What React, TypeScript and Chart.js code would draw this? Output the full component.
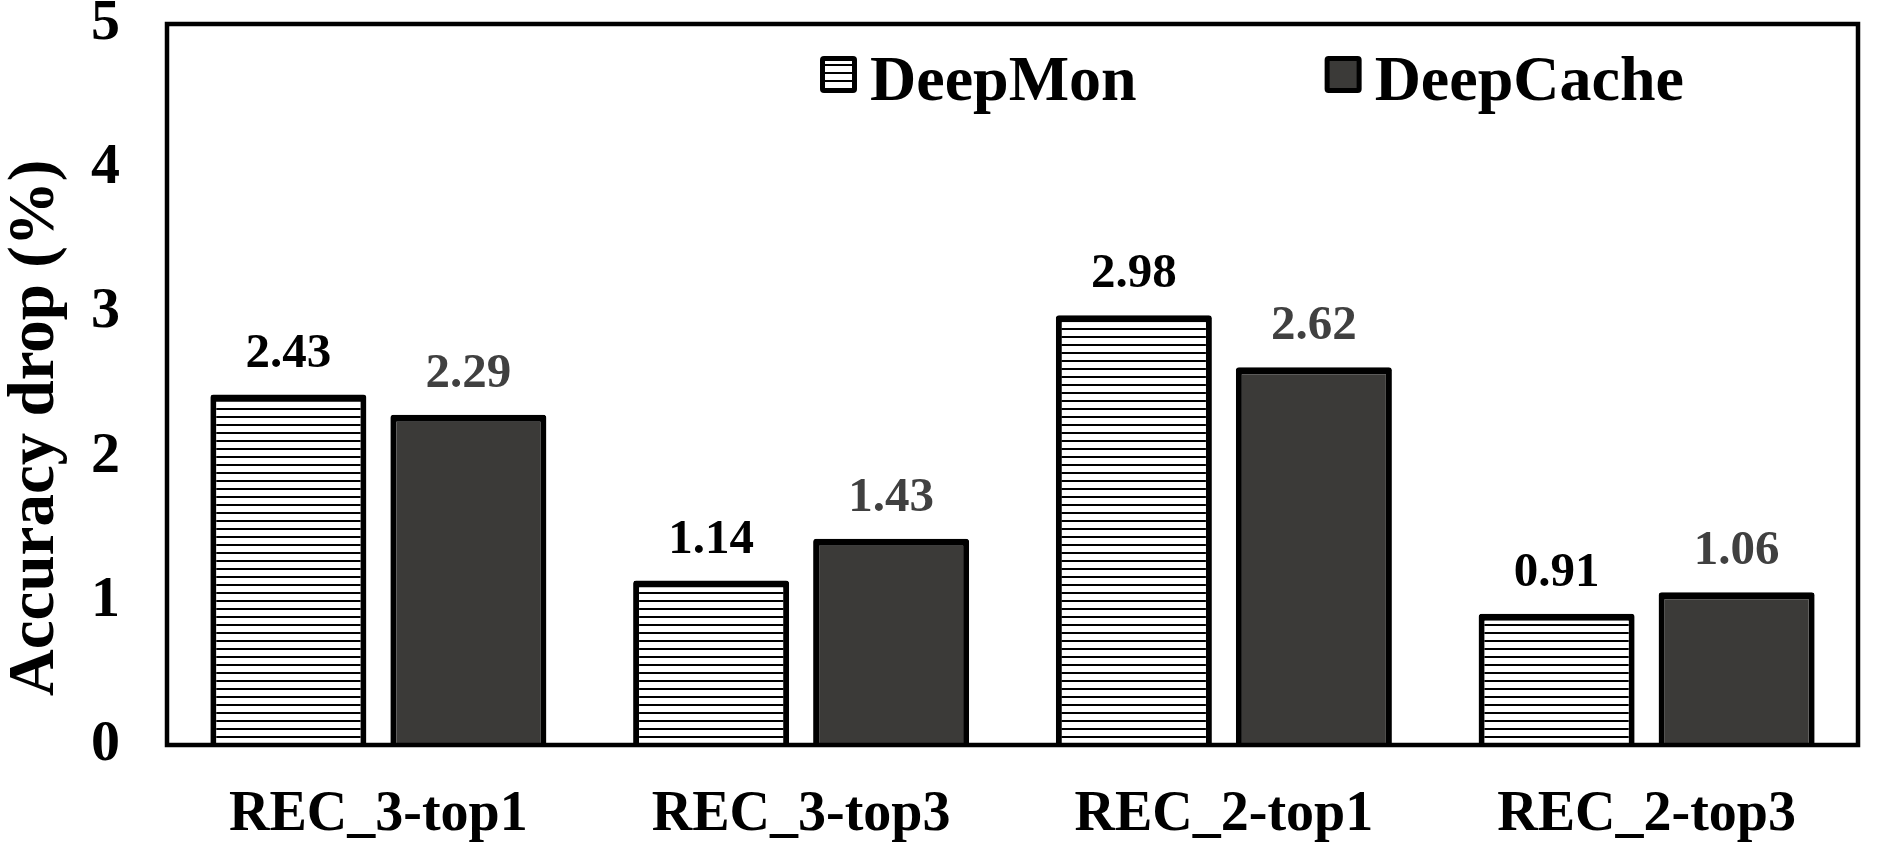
import { useEffect, useRef } from "react";
import { Chart, registerables } from "chart.js";
import type { Plugin } from "chart.js";

Chart.register(...registerables);

const categories = ["REC_3-top1", "REC_3-top3", "REC_2-top1", "REC_2-top3"];
const seriesNames = ["DeepMon", "DeepCache"];
const deepMonValues = [2.43, 1.14, 2.98, 0.91];
const deepCacheValues = [2.29, 1.43, 2.62, 1.06];
const yTickValues = [0, 1, 2, 3, 4, 5];
const yTitle = "Accuracy drop (%)";

const SERIF = '"Liberation Serif", "Times New Roman", serif';
const labelColors = ["#000000", "#404040"];
const barBorder = { top: 7, left: 6, right: 6, bottom: 0 };

const makeHatch = () => {
  const tile = document.createElement("canvas");
  tile.width = 8;
  tile.height = 8;
  const c = tile.getContext("2d")!;
  c.fillStyle = "#ffffff";
  c.fillRect(0, 0, 8, 8);
  c.fillStyle = "#000000";
  c.fillRect(0, 0, 8, 2);
  return c.createPattern(tile, "repeat")!;
};

// box round the plot area
const framePlugin: Plugin<"bar"> = {
  id: "frame",
  afterDatasetsDraw(chart) {
    const { ctx, chartArea } = chart;
    ctx.save();
    ctx.strokeStyle = "#000";
    ctx.lineWidth = 4.5;
    ctx.strokeRect(chartArea.left, chartArea.top, chartArea.right - chartArea.left, chartArea.bottom - chartArea.top);
    ctx.restore();
  },
};

const valueLabelPlugin: Plugin<"bar"> = {
  id: "valueLabels",
  afterDatasetsDraw(chart) {
    const { ctx } = chart;
    ctx.save();
    ctx.font = `bold 49px ${SERIF}`;
    ctx.textAlign = "center";
    ctx.textBaseline = "alphabetic";
    chart.data.datasets.forEach((ds, i) => {
      const meta = chart.getDatasetMeta(i);
      ctx.fillStyle = labelColors[i];
      meta.data.forEach((bar, j) => {
        const v = ds.data[j] as number;
        ctx.fillText(v.toFixed(2), bar.x, bar.y - 28);
      });
    });
    ctx.restore();
  },
};

const legendPlugin: Plugin<"bar"> = {
  id: "boxLegend",
  afterDraw(chart) {
    const { ctx } = chart;
    const box = 37;
    const top = 56;
    let x = 820;
    ctx.save();
    ctx.font = `bold 64px ${SERIF}`;
    ctx.textBaseline = "alphabetic";
    chart.data.datasets.forEach((ds) => {
      ctx.beginPath();
      ctx.roundRect(x, top, box, box, 4);
      ctx.fillStyle = "#000";
      ctx.fill();
      ctx.fillStyle = ds.backgroundColor as CanvasPattern | string;
      ctx.fillRect(x + 5, top + 5, box - 10, box - 10);
      ctx.fillStyle = "#000";
      ctx.fillText(ds.label ?? "", x + box + 13, 100);
      x += box + 13 + ctx.measureText(ds.label ?? "").width + 188;
    });
    ctx.restore();
  },
};

export default function App() {
  const canvasRef = useRef<HTMLCanvasElement | null>(null);

  useEffect(() => {
    document.body.style.margin = "0";
    if (!canvasRef.current) return;
    const hatch = makeHatch();

    const chart = new Chart(canvasRef.current, {
      type: "bar",
      data: {
        labels: categories,
        datasets: [
          {
            label: seriesNames[0],
            data: deepMonValues,
            backgroundColor: hatch,
            borderColor: "#000",
            borderWidth: barBorder,
            borderRadius: 3,
          },
          {
            label: seriesNames[1],
            data: deepCacheValues,
            backgroundColor: "#3b3a38",
            borderColor: "#000",
            borderWidth: barBorder,
            borderRadius: 3,
          },
        ],
      },
      options: {
        animation: false,
        responsive: true,
        maintainAspectRatio: false,
        layout: { padding: { top: 24, right: 20, bottom: 0, left: 0 } },
        datasets: {
          bar: { categoryPercentage: 0.8516, barPercentage: 0.8667 },
        },
        plugins: {
          legend: { display: false },
          tooltip: { enabled: false },
        },
        scales: {
          x: {
            grid: { display: false, drawTicks: false },
            border: { display: false },
            ticks: {
              color: "#000",
              padding: 37,
              font: { family: SERIF, size: 56, weight: "bold" },
            },
            afterFit: (scale) => {
              scale.height = 115;
              scale.paddingLeft = 0;
              scale.paddingRight = 0;
            },
          },
          y: {
            min: 0,
            max: 5,
            grid: { display: false, drawTicks: false },
            border: { display: false },
            afterBuildTicks: (scale) => {
              scale.ticks = yTickValues.map((value) => ({ value }));
            },
            ticks: {
              color: "#000",
              padding: 47,
              font: { family: SERIF, size: 58, weight: "bold" },
            },
            title: {
              display: true,
              text: "   " + yTitle,
              align: "start",
              color: "#000",
              padding: 0,
              font: { family: SERIF, size: 65, weight: "bold", lineHeight: 1.12 },
            },
            afterFit: (scale) => {
              scale.width = 167;
              scale.paddingTop = 0;
              scale.paddingBottom = 0;
            },
          },
        },
      },
      plugins: [framePlugin, valueLabelPlugin, legendPlugin],
    });

    return () => {
      chart.destroy();
    };
  }, []);

  return (
    <div style={{ position: "relative", width: 1878, height: 860 }}>
      <canvas ref={canvasRef} style={{ display: "block" }} />
    </div>
  );
}
